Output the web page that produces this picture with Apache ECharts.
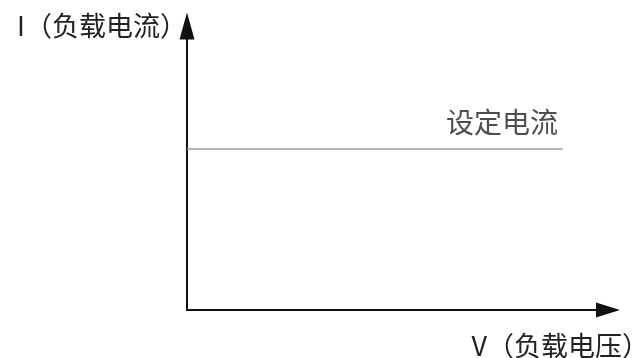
<!DOCTYPE html>
<html><head><meta charset="utf-8">
<script src="https://cdn.jsdelivr.net/npm/echarts@6/dist/echarts.min.js"></script>
<style>html,body{margin:0;padding:0;background:#fff}#c{width:637px;height:358px}</style>
</head><body><div id="c"></div>
<script>
const xName = 'V（负载电压）';
const yName = 'I（负载电流）';
const lineLabel = '设定电流';
const lineX = [0, 89.3];
const lineY = [56.7, 56.7];

const chart = echarts.init(document.getElementById('c'));
const font = '"Noto Sans CJK SC", "Noto Sans", sans-serif';
chart.setOption({
  animation: false,
  grid: {left: 187, right: 29, top: 26, bottom: 48, containLabel: false, outerBoundsMode: 'none'},
  xAxis: {
    type: 'value', min: 0, max: 100,
    name: xName, nameLocation: 'end', nameGap: 41,
    nameTextStyle: {align: 'right', verticalAlign: 'top', padding: [22, 0, 0, 0], fontSize: 27, color: '#222', fontFamily: font},
    axisLine: {show: true, symbol: ['none', 'triangle'], symbolSize: [15, 24], lineStyle: {color: '#111', width: 2}},
    axisTick: {show: false}, axisLabel: {show: false}, splitLine: {show: false}
  },
  yAxis: {
    type: 'value', min: 0, max: 100,
    name: yName, nameLocation: 'end', nameGap: 0,
    nameTextStyle: {align: 'right', verticalAlign: 'middle', padding: [0, 0, -4, 0], fontSize: 27, color: '#222', fontFamily: font},
    axisLine: {show: true, symbol: ['none', 'triangle'], symbolSize: [15, 27], lineStyle: {color: '#111', width: 2}},
    axisTick: {show: false}, axisLabel: {show: false}, splitLine: {show: false}
  },
  series: [{
    type: 'line',
    data: lineX.map((x, i) => [x, lineY[i]]),
    symbol: 'none',
    lineStyle: {color: '#a29c9a', width: 1.5}
  }, {
    type: 'scatter', symbolSize: 0,
    data: [[lineX[1], lineY[1]]],
    label: {show: true, formatter: lineLabel, position: 'top', distance: 13, align: 'right', offset: [-5, 0], fontSize: 28, color: '#222', fontFamily: font}
  }]
});
</script></body></html>
